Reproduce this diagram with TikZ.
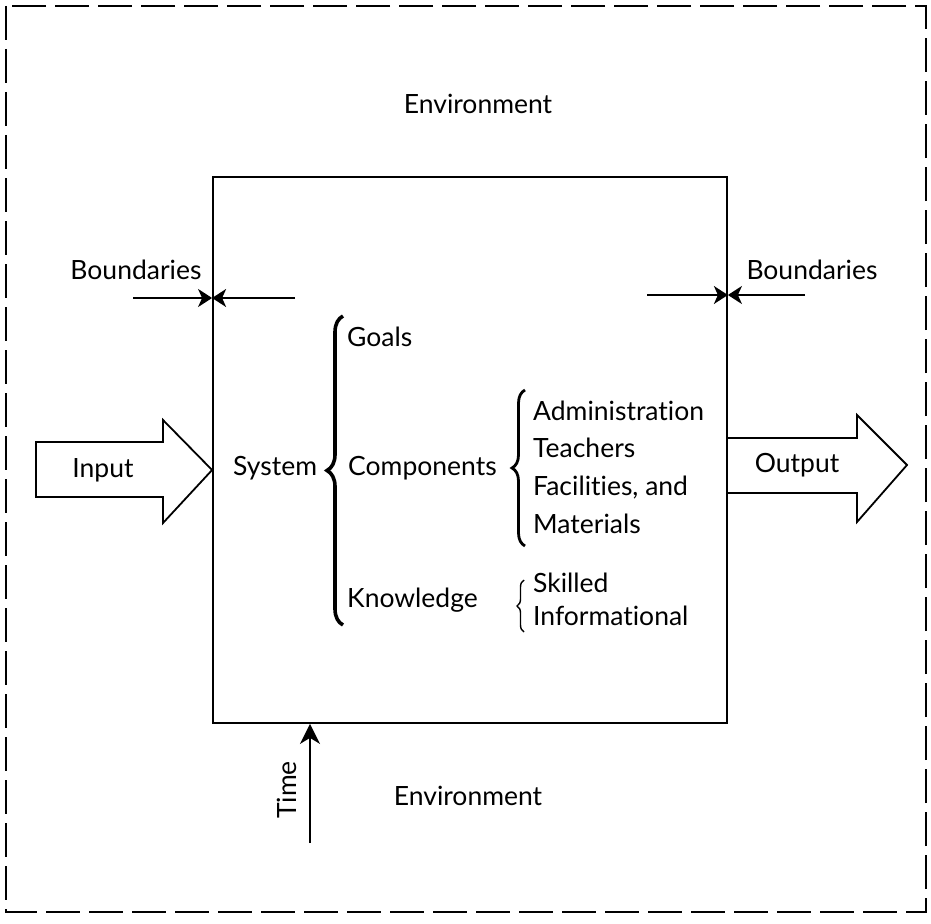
\documentclass[tikz,border=0pt]{standalone}
\usepackage{fontspec}
\setmainfont[Ligatures={NoCommon}]{Lato}
\usetikzlibrary{arrows.meta,decorations.pathreplacing,calc}

\begin{document}
\begin{tikzpicture}[x=1pt,y=-1pt,
  every node/.style={font=\fontsize{26.5}{32}\selectfont, inner sep=0pt},
  frame/.style={line width=2.6pt, dash pattern=on 34pt off 9pt},
  sysbox/.style={draw, line width=1.8pt, minimum width=514pt, minimum height=546pt},
  bndarrow/.style={line width=1.8pt, -{Stealth[length=14pt,width=18pt,inset=4pt]}},
  timearrow/.style={line width=1.8pt, -{Stealth[length=20pt,width=20pt,inset=6pt]}},
  blockarrow/.style={line width=1.8pt, line join=miter},
  bigbrace/.style={decorate, decoration={brace, amplitude=16pt}, line width=3.6pt},
  midbrace/.style={decorate, decoration={brace, amplitude=13pt}, line width=2.8pt},
  smallbrace/.style={decorate, decoration={brace, amplitude=7pt}, line width=1.4pt},
  lines/.style={align=left, anchor=west}
]
\useasboundingbox (0,0) rectangle (931,923);

% outer environment frame
\draw[frame] (6,6) rectangle (926,912);

% the system box
\node[sysbox] (sys) at (470,450) {};

% environment labels
\node (envtop) at (478,104) {Environment};
\node (envbot) at (468,796) {Environment};

% boundaries, left side
\node (bndl) at (136,270) {Boundaries};
\coordinate (bl1) at (133,298);
\coordinate (bl2) at (295,298);
\draw[bndarrow] (bl1) -- (sys.west |- bl1);
\draw[bndarrow] (bl2) -- (sys.west |- bl2);

% boundaries, right side
\node (bndr) at (812,270) {Boundaries};
\coordinate (br1) at (647,295);
\coordinate (br2) at (805,295);
\draw[bndarrow] (br1) -- (sys.east |- br1);
\draw[bndarrow] (br2) -- (sys.east |- br2);

% input block arrow
\draw[blockarrow] (36,442) -- (163,442) -- (163,420) -- (sys.west |- 0,470)
  -- (163,523) -- (163,497) -- (36,497) -- cycle;
\node (input) at (103,470) {Input};

% output block arrow
\draw[blockarrow] (sys.east |- 0,438) -- (857,438) -- (857,415) -- (907,465)
  -- (857,522) -- (857,493) -- (sys.east |- 0,493);
\node (output) at (797,465) {Output};

% time arrow
\coordinate (t0) at (310,843);
\draw[timearrow] (t0) -- (sys.south -| t0);
\node[rotate=90] (time) at (287,790) {Time};

% system contents
\node[anchor=west] (system) at (233,468) {System};
\draw[bigbrace] (343,625) -- (343,316);
\node[anchor=west] (goals) at (347,337) {Goals};
\node[anchor=west] (comp) at (348,468) {Components};
\node[anchor=west] (know) at (347,600) {Knowledge};

\draw[midbrace] (525,546) -- (525,390);
\node[lines, font=\fontsize{26.5}{37.7}\selectfont] (complist) at (533,467)
  {Administration\\Teachers\\Facilities, and\\Materials};

\draw[smallbrace] (524,632) -- (524,580);
\node[lines, font=\fontsize{26.5}{33}\selectfont] (knowlist) at (533,599)
  {Skilled\\Informational};
\end{tikzpicture}
\end{document}
